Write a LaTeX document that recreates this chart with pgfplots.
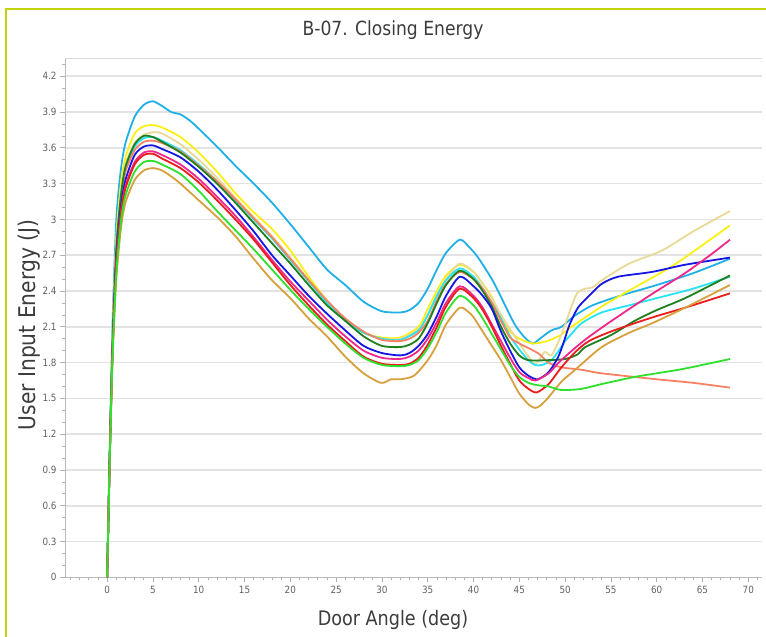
\documentclass[border=0pt]{standalone}
\usepackage{fontspec}
\setmainfont{DejaVu Sans}[FakeStretch=0.88]
\usepackage{pgfplots}
\pgfplotsset{compat=1.18}

\definecolor{framecol}{RGB}{196,212,10}
\definecolor{cSky}{RGB}{30,176,230}
\definecolor{cYellow}{RGB}{250,240,20}
\definecolor{cKhaki}{RGB}{232,218,150}
\definecolor{cCyan}{RGB}{40,228,240}
\definecolor{cCoral}{RGB}{250,128,100}
\definecolor{cDkGreen}{RGB}{30,128,30}
\definecolor{cBlue}{RGB}{22,22,228}
\definecolor{cPink}{RGB}{240,40,140}
\definecolor{cRed}{RGB}{235,28,28}
\definecolor{cGold}{RGB}{215,160,60}
\definecolor{cLime}{RGB}{45,225,45}
\definecolor{txt}{RGB}{60,60,60}

\begin{document}
\begin{tikzpicture}[x=1pt,y=1pt]
\path[use as bounding box] (0,0) rectangle (766,637);
\draw[framecol, line width=2.2pt] (6,0) -- (6,628) -- (767,628);

\begin{axis}[
  at={(71,50)}, anchor=south west,
  scale only axis, width=697pt, height=519pt,
  xmin=-4.6, xmax=71.5, ymin=0, ymax=4.35,
  axis line style={draw=none},
  xtick pos=left, ytick pos=left,
  xtick={0,5,...,70},
  ytick={0,0.3,0.6,0.9,1.2,1.5,1.8,2.1,2.4,2.7,3,3.3,3.6,3.9,4.2},
  yticklabels={0,0.3,0.6,0.9,1.2,1.5,1.8,2.1,2.4,2.7,3,3.3,3.6,3.9,4.2},
  minor xtick={-4,-3,-2,-1,1,2,3,4,6,7,8,9,11,12,13,14,16,17,18,19,21,22,23,24,26,27,28,29,31,32,33,34,36,37,38,39,41,42,43,44,46,47,48,49,51,52,53,54,56,57,58,59,61,62,63,64,66,67,68,69,71},
  minor ytick={0.1,0.2,0.4,0.5,0.7,0.8,1.0,1.1,1.3,1.4,1.6,1.7,1.9,2.0,2.2,2.3,2.5,2.6,2.8,2.9,3.1,3.2,3.4,3.5,3.7,3.8,4.0,4.1,4.3},
  tick align=outside,
  major tick length=5pt, minor tick length=3pt,
  every tick/.style={gray!60, line width=0.7pt},
  ymajorgrids,
  major grid style={gray!22, line width=1.5pt},
  tick label style={font=\fontsize{10}{12}\selectfont, text=gray!75!black},
  /pgf/number format/assume math mode=true,
  clip=true,
  every axis plot/.append style={line width=1.8pt, smooth, tension=0.45},
]
% frame of the plot area: left and bottom axis lines, faint top edge
\draw[gray!55, line width=0.9pt] (rel axis cs:0,1) -- (rel axis cs:0,0) -- (rel axis cs:1,0);
\draw[gray!30, line width=1pt] (rel axis cs:0,1) -- (rel axis cs:1,1);

% deep sky blue
\addplot[cSky] coordinates {
(0,0) (0.3,1.15) (0.6,2.15) (1,3.0) (1.5,3.42) (2,3.64) (3,3.86) (4,3.96) (5,3.99) (6,3.95) (7,3.90) (8,3.88) (9,3.83) (10,3.76) (12,3.61) (14,3.45) (16,3.30) (18,3.14) (20,2.96) (22,2.77) (24,2.58) (26,2.45) (28,2.31) (30,2.23) (32,2.22) (33,2.24) (34,2.30) (35,2.42) (36,2.58) (37,2.72) (38.5,2.83) (39.5,2.77) (40.5,2.68) (42,2.50) (43,2.35) (44.5,2.12) (45.6,2.01) (46.5,1.96) (47.4,2.01) (48.5,2.07) (49.6,2.10) (51,2.19) (53,2.28) (56,2.36) (60,2.45) (64,2.55) (68,2.67)};

% yellow
\addplot[cYellow] coordinates {
(0,0) (0.3,1.1) (0.6,2.05) (1,2.85) (1.5,3.3) (2,3.52) (3,3.72) (4,3.78) (5,3.79) (6,3.77) (8,3.69) (10,3.56) (12,3.40) (14,3.22) (16,3.06) (18,2.92) (20,2.74) (22,2.52) (24,2.32) (26,2.16) (28,2.05) (30,2.01) (32,2.01) (34,2.10) (35,2.25) (36,2.40) (37,2.53) (38.5,2.62) (40,2.56) (41,2.46) (42,2.35) (43,2.17) (44,2.06) (45,2.00) (46.5,1.96) (48,1.98) (49.5,2.03) (50.7,2.10) (54,2.27) (57.6,2.43) (61.3,2.59) (64,2.73) (68,2.95)};

% khaki
\addplot[cKhaki] coordinates {
(0,0) (0.3,1.1) (0.6,2.0) (1,2.8) (1.5,3.24) (2,3.46) (3,3.64) (4,3.71) (5,3.73) (6,3.72) (8,3.63) (10,3.50) (12,3.35) (14,3.18) (16,3.02) (18,2.86) (20,2.68) (22,2.49) (24,2.30) (26,2.15) (28,2.05) (30,2.00) (32,2.00) (34,2.08) (35,2.20) (36,2.36) (37,2.50) (38.5,2.63) (40,2.56) (41,2.46) (42,2.34) (43,2.20) (44,2.08) (45,1.96) (46,1.85) (46.7,1.79) (47.3,1.84) (47.8,1.89) (48.5,1.86) (49.3,1.98) (50,2.12) (50.6,2.25) (51.3,2.38) (52.2,2.42) (53,2.43) (54,2.49) (57,2.63) (60.6,2.74) (64,2.90) (68,3.07)};

% cyan
\addplot[cCyan] coordinates {
(0,0) (0.3,1.08) (0.6,1.98) (1,2.74) (1.5,3.18) (2,3.42) (3,3.61) (4,3.68) (5,3.69) (6,3.66) (8,3.58) (10,3.46) (12,3.32) (14,3.16) (16,3.00) (18,2.84) (20,2.66) (22,2.48) (24,2.30) (26,2.15) (28,2.05) (30,2.00) (32,1.99) (34,2.07) (35,2.20) (36,2.36) (37,2.49) (38.5,2.59) (40,2.52) (41,2.42) (42,2.30) (43,2.17) (44,2.02) (45,1.91) (46,1.82) (46.7,1.78) (47.5,1.78) (48.5,1.82) (49.3,1.90) (50,1.98) (50.7,2.04) (51.8,2.13) (54,2.22) (57,2.28) (60,2.34) (64,2.42) (68,2.52)};

% coral
\addplot[cCoral] coordinates {
(0,0) (0.3,1.07) (0.6,1.96) (1,2.72) (1.5,3.16) (2,3.40) (3,3.58) (4,3.65) (5,3.66) (6,3.64) (8,3.57) (10,3.45) (12,3.32) (14,3.17) (16,3.01) (18,2.85) (20,2.67) (22,2.49) (24,2.32) (26,2.17) (28,2.06) (30,1.99) (32,1.98) (33,2.00) (34,2.05) (35,2.15) (36,2.32) (37,2.46) (38.5,2.56) (40,2.50) (41,2.42) (42,2.30) (43,2.15) (44,2.01) (45,1.96) (46.3,1.91) (47.2,1.87) (48.2,1.80) (49.6,1.76) (51.8,1.74) (54,1.71) (60,1.66) (64,1.63) (68,1.59)};

% dark green
\addplot[cDkGreen] coordinates {
(0,0) (0.3,1.08) (0.6,1.98) (1,2.75) (1.5,3.2) (2,3.44) (3,3.63) (4,3.70) (5,3.69) (6,3.65) (8,3.56) (10,3.44) (12,3.30) (14,3.14) (16,2.97) (18,2.80) (20,2.63) (22,2.45) (24,2.28) (26,2.15) (28,2.02) (30,1.94) (32,1.93) (33,1.95) (34,2.00) (35,2.13) (36,2.30) (37,2.45) (38.5,2.57) (40,2.50) (41,2.40) (42,2.27) (43,2.10) (44,1.96) (45,1.86) (46,1.82) (48,1.82) (50,1.83) (51.4,1.87) (52.2,1.93) (55,2.03) (57.6,2.15) (60,2.24) (63.1,2.34) (68,2.53)};

% blue
\addplot[cBlue] coordinates {
(0,0) (0.3,1.06) (0.6,1.94) (1,2.68) (1.5,3.1) (2,3.33) (3,3.54) (4,3.61) (5,3.62) (6,3.59) (8,3.52) (10,3.40) (12,3.25) (14,3.08) (16,2.90) (18,2.70) (20,2.53) (22,2.36) (24,2.21) (26,2.07) (28,1.94) (30,1.88) (32,1.86) (33,1.88) (34,1.94) (35,2.04) (36,2.19) (37,2.36) (38.5,2.52) (40,2.44) (41,2.36) (42,2.25) (43,2.06) (44,1.90) (45,1.76) (46,1.69) (47,1.66) (48.2,1.72) (49.2,1.84) (49.8,1.96) (50.5,2.12) (51.4,2.26) (52.5,2.35) (54,2.46) (55.8,2.52) (59.5,2.56) (63.1,2.62) (68,2.68)};

% deep pink
\addplot[cPink] coordinates {
(0,0) (0.3,1.05) (0.6,1.92) (1,2.64) (1.5,3.06) (2,3.28) (3,3.48) (4,3.56) (5,3.57) (6,3.54) (8,3.46) (10,3.34) (12,3.19) (14,3.03) (16,2.85) (18,2.66) (20,2.48) (22,2.32) (24,2.16) (26,2.02) (28,1.90) (30,1.84) (32,1.83) (33,1.85) (34,1.90) (35,2.00) (36,2.14) (37,2.30) (38.5,2.44) (40,2.36) (41,2.26) (42,2.12) (43,1.98) (44,1.84) (45,1.72) (46,1.67) (46.8,1.65) (48.2,1.71) (49.3,1.80) (50.3,1.87) (51.2,1.93) (52.5,2.01) (54.7,2.13) (57.6,2.28) (60,2.40) (63.1,2.55) (66,2.71) (68,2.83)};

% red
\addplot[cRed] coordinates {
(0,0) (0.3,1.05) (0.6,1.9) (1,2.62) (1.5,3.04) (2,3.26) (3,3.46) (4,3.54) (5,3.55) (6,3.51) (8,3.43) (10,3.31) (12,3.16) (14,3.00) (16,2.83) (18,2.64) (20,2.45) (22,2.28) (24,2.12) (26,1.98) (28,1.85) (30,1.79) (32,1.78) (33,1.79) (34,1.84) (35,1.95) (36,2.10) (37,2.27) (38.5,2.42) (40,2.34) (41,2.24) (42,2.10) (43,1.94) (44,1.79) (45,1.65) (46,1.58) (46.9,1.55) (48.2,1.62) (49.6,1.76) (51,1.88) (52.2,1.96) (53.1,2.00) (55,2.06) (57.6,2.13) (60,2.19) (63.1,2.26) (68,2.38)};

% goldenrod
\addplot[cGold] coordinates {
(0,0) (0.3,1.03) (0.6,1.85) (1,2.5) (1.5,2.92) (2,3.14) (3,3.33) (4,3.41) (5,3.43) (6,3.41) (7,3.36) (8,3.30) (10,3.16) (12,3.02) (14,2.86) (16,2.67) (18,2.49) (20,2.34) (22,2.17) (24,2.02) (26,1.85) (28,1.71) (29.9,1.63) (31,1.66) (32,1.66) (33.5,1.69) (35,1.82) (36,1.95) (37,2.12) (38.5,2.26) (39.5,2.22) (40,2.18) (41,2.06) (42,1.94) (43,1.82) (44,1.68) (45,1.54) (46,1.45) (46.7,1.42) (47.3,1.44) (48.2,1.51) (49.6,1.64) (51.1,1.74) (54,1.93) (57,2.05) (59.5,2.13) (63.1,2.26) (68,2.45)};

% lime green
\addplot[cLime] coordinates {
(0,0) (0.3,1.04) (0.6,1.88) (1,2.55) (1.5,2.98) (2,3.2) (3,3.40) (4,3.48) (5,3.49) (6,3.46) (8,3.38) (10,3.24) (12,3.07) (14,2.91) (16,2.75) (18,2.58) (20,2.41) (22,2.25) (24,2.10) (26,1.96) (28,1.84) (30,1.78) (32,1.77) (33,1.78) (34,1.82) (35,1.92) (36,2.06) (37,2.22) (38.5,2.36) (40,2.28) (41,2.17) (42,2.04) (43,1.91) (44,1.78) (45,1.68) (46,1.63) (47,1.61) (48.2,1.60) (49.6,1.57) (51.8,1.58) (54,1.62) (57.6,1.68) (60,1.71) (63.1,1.75) (68,1.83)};
\end{axis}

\node[text=txt, font=\fontsize{19.5}{22}\selectfont] at (393,607) {B-07. Closing Energy};
\node[text=txt, font=\fontsize{20}{22}\selectfont] at (393,17) {Door Angle (deg)};
\node[text=txt, font=\fontsize{23}{25}\selectfont, rotate=90] at (29,312) {User Input Energy (J)};
\end{tikzpicture}
\end{document}
